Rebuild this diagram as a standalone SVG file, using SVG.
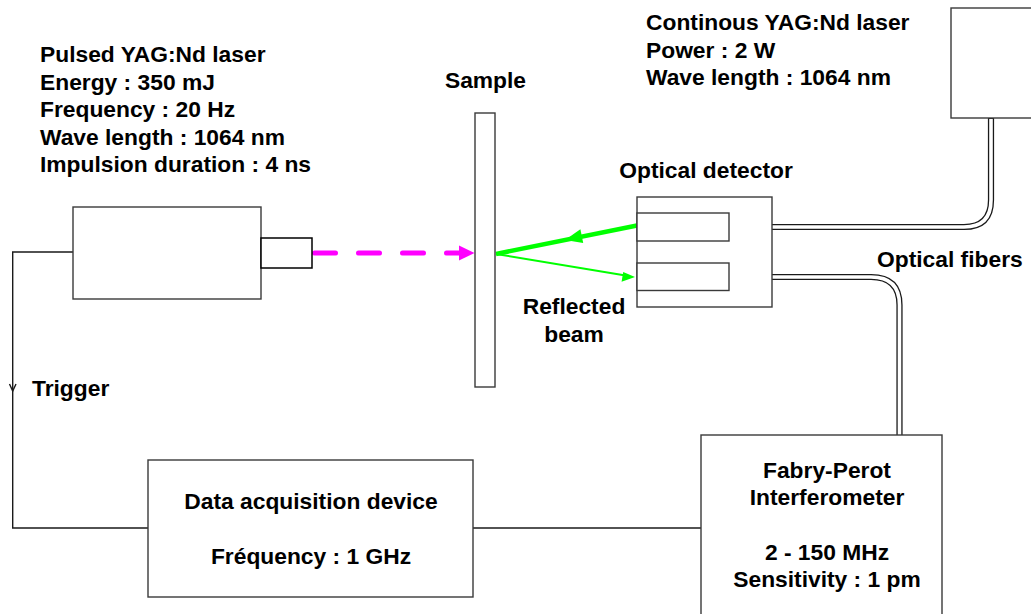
<svg xmlns="http://www.w3.org/2000/svg" width="1031" height="614" viewBox="0 0 1031 614">
<style>
  .box { fill: #ffffff; stroke: #3a3a3a; stroke-width: 1.4; }
  .wire { fill: none; stroke: #1a1a1a; stroke-width: 1.4; }
  .fiberOut { fill: none; stroke: #1a1a1a; stroke-width: 6.2; }
  .fiberIn { fill: none; stroke: #ffffff; stroke-width: 3.6; }
  .t { font-family: "Liberation Sans", Arial, Helvetica, sans-serif; font-weight: bold; font-size: 22.8px; fill: #000000; }
  .c { text-anchor: middle; }
</style>
<rect width="1031" height="614" fill="#ffffff"/>

<g id="connectors">
  <!-- trigger wire -->
  <path class="wire" d="M148 528 H12.7 V252 H73"/>
  <polyline class="wire" points="9.5,384 12.7,391 16,384"/>
  <!-- DAQ to FP -->
  <path class="wire" d="M473 528 H701"/>
  <!-- optical fibers -->
  <path class="fiberOut" d="M772 227 H964 Q991 227 991 200 V118"/>
  <path class="fiberIn" d="M771 227 H964 Q991 227 991 200 V119"/>
  <path class="fiberOut" d="M772 277 H871 Q899.5 277 899.5 305 V435"/>
  <path class="fiberIn" d="M771 277 H871 Q899.5 277 899.5 305 V436"/>
  <!-- pulsed laser beam -->
  <path d="M314.5 253 H462" fill="none" stroke="#ff00ff" stroke-width="5" stroke-linecap="round" stroke-dasharray="21 23"/>
  <polygon points="459,245.5 474.5,253 459,260.5" fill="#ff00ff"/>
  <!-- reflected beams -->
  <line x1="637" y1="225.5" x2="496" y2="254" stroke="#00ff00" stroke-width="4.5"/>
  <polygon points="565,240 580.4,229.3 583.2,243.1" fill="#00ff00"/>
  <line x1="496" y1="254" x2="624" y2="275.3" stroke="#00ff00" stroke-width="2"/>
  <polygon points="635,277 621.6,281.8 623.2,271.9" fill="#00ff00"/>
</g>

<g id="pulsed-laser">
  <rect class="box" x="73" y="207" width="188" height="92"/>
  <rect x="261" y="238" width="51" height="30" fill="#ffffff" stroke="#000000" stroke-width="1.5"/>
  <text class="t" x="40" y="62">Pulsed YAG:Nd laser</text>
  <text class="t" x="40" y="89.5">Energy : 350 mJ</text>
  <text class="t" x="40" y="117">Frequency : 20 Hz</text>
  <text class="t" x="40" y="144.5">Wave length : 1064 nm</text>
  <text class="t" x="40" y="172">Impulsion duration : 4 ns</text>
</g>

<g id="sample">
  <rect class="box" x="475" y="113" width="20" height="274"/>
  <text class="t c" x="485.5" y="87.5">Sample</text>
</g>

<g id="optical-detector">
  <rect class="box" x="637" y="197" width="135" height="110"/>
  <rect class="box" x="637" y="213" width="92" height="28"/>
  <rect class="box" x="637" y="263" width="92" height="27.5"/>
  <text class="t c" x="706" y="178">Optical detector</text>
</g>

<g id="reflected-label">
  <text class="t c" x="574" y="314">Reflected</text>
  <text class="t c" x="574" y="341.5">beam</text>
</g>

<g id="continuous-laser">
  <rect class="box" x="951" y="8" width="100" height="110"/>
  <text class="t" x="646" y="30">Continous YAG:Nd laser</text>
  <text class="t" x="646" y="57.5">Power : 2 W</text>
  <text class="t" x="646" y="85">Wave length : 1064 nm</text>
</g>

<g id="fibers-label">
  <text class="t" x="877" y="267">Optical fibers</text>
</g>

<g id="trigger-label">
  <text class="t" x="32" y="396">Trigger</text>
</g>

<g id="data-acquisition">
  <rect class="box" x="148" y="460" width="325" height="137"/>
  <text class="t c" x="311" y="509">Data acquisition device</text>
  <text class="t c" x="311" y="564">Fréquency : 1 GHz</text>
</g>

<g id="fabry-perot">
  <rect class="box" x="701" y="435" width="241" height="190"/>
  <text class="t c" x="827" y="477.5">Fabry-Perot</text>
  <text class="t c" x="827" y="505">Interferometer</text>
  <text class="t c" x="827" y="559.5">2 - 150 MHz</text>
  <text class="t c" x="827" y="587">Sensitivity : 1 pm</text>
</g>
</svg>
